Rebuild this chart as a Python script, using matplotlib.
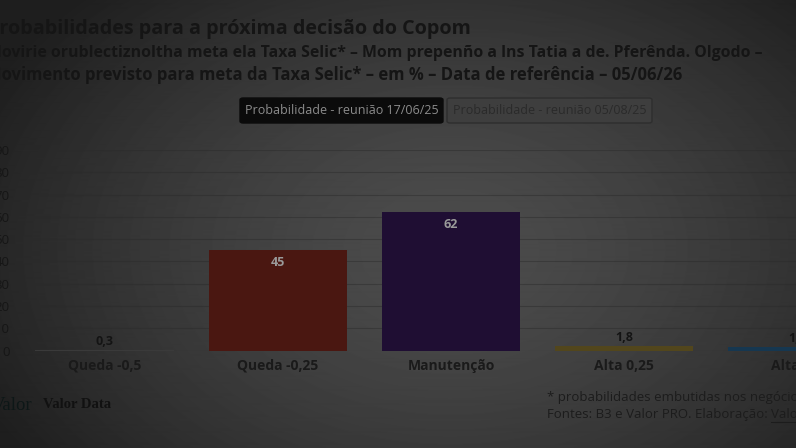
import matplotlib.pyplot as plt
import numpy as np
from matplotlib.patches import FancyBboxPatch

W, H = 796, 448

categories = ["Queda -0,5", "Queda -0,25", "Manutenção", "Alta 0,25", "Alta 0,5"]
values = [0.3, 45, 62, 1.8, 1.5]
value_labels = ["0,3", "45", "62", "1,8", "1,5"]
bar_colors = ["#3a3a3a", "#4a1711", "#1f0e33", "#52461c", "#163750"]
yticks = np.arange(0, 100, 10)

title = "Probabilidades para a próxima decisão do Copom"
subtitle_1 = "Movirie orublectiznoltha meta ela Taxa Selic* – Mom prepenño a lns Tatia a de. Pferênda. Olgodo –"
subtitle_2 = "Movimento previsto para meta da Taxa Selic* – em % – Data de referência – 05/06/26"
buttons = ["Probabilidade - reunião 17/06/25", "Probabilidade - reunião 05/08/25"]
note = "* probabilidades embutidas nos negócios com DI"
source = "Fontes: B3 e Valor PRO. Elaboração: "


def px(x, y):
    # pixel coords (from top-left) to figure fraction
    return x / W, 1 - y / H


plt.rcParams['font.family'] = ['Open Sans', 'DejaVu Sans']

fig = plt.figure(figsize=(W / 100, H / 100), dpi=100)

# dimmed background with a soft vignette
bg = fig.add_axes([0, 0, 1, 1], zorder=-10)
yy, xx = np.mgrid[0:H, 0:W]
r = np.sqrt(((xx - 450) / 520) ** 2 + ((yy - 250) / 360) ** 2)
shade = 30 + 46 * np.clip(1 - r ** 1.5, 0, 1)
bg.imshow(shade, cmap='gray', vmin=0, vmax=255, aspect='auto',
          extent=[0, 1, 0, 1], interpolation='bilinear')
bg.axis('off')

# main bar chart
left, bottom = px(18, 350.5)
ax_w = 866 / W
ax_h = 200.5 / H
ax = fig.add_axes([left, bottom, ax_w, ax_h])
ax.patch.set_alpha(0)
x = np.arange(len(categories))
ax.bar(x, values, width=0.8, color=bar_colors, zorder=3)
ax.set_xlim(-0.5, 4.5)
ax.set_ylim(0, 90)
ax.set_yticks(yticks)
ax.set_yticklabels([str(t) for t in yticks], fontsize=9.5, color='#161616')
ax.set_xticks(x)
ax.set_xticklabels(categories, fontsize=10, fontweight='bold', color='#1a1a1a')
ax.tick_params(length=0, pad=6)
ax.tick_params(axis='x', pad=6)
ax.grid(axis='y', color='#2a2a2a', lw=0.8, alpha=0.45, zorder=0)
for s in ax.spines.values():
    s.set_visible(False)

for xi, v, lab in zip(x, values, value_labels):
    if v > 10:
        ax.text(xi, v - 2.5, lab, ha='center', va='top', fontsize=9,
                fontweight='bold', color='#9a9a9a', zorder=4)
    else:
        ax.text(xi, v + 1.0, lab, ha='center', va='bottom', fontsize=9,
                fontweight='bold', color='#141414', zorder=4)

# titles
fig.text(*px(-13, 29), title, fontsize=14.2, fontweight='bold', color='#151515', va='center')
fig.text(*px(-13, 53), subtitle_1, fontsize=11.4, fontweight='bold', color='#151515', va='center')
fig.text(*px(-14, 75), subtitle_2, fontsize=12, fontweight='bold', color='#151515', va='center')

# toggle buttons
btn_specs = [(240, 443, '#0b0b0b', '#0b0b0b', '#8c8c8c'),
             (447, 652, '#3e3e3e', '#2e2e2e', '#2a2a2a')]
for (x0, x1, fc, ec, tc), label in zip(btn_specs, buttons):
    bx, by = px(x0, 123)
    bw = (x1 - x0) / W
    bh = 25 / H
    fig.patches.append(FancyBboxPatch((bx, by), bw, bh, boxstyle="round,pad=0,rounding_size=0.004",
                                      transform=fig.transFigure, fc=fc, ec=ec, lw=1))
    fig.text(bx + bw / 2, by + bh / 2, label, ha='center', va='center',
             fontsize=9, color=tc)

# footer
fig.text(*px(-8, 405), "Valor", family='Liberation Serif', fontsize=13.5,
         color='#0d1717', va='center')
fig.text(*px(43, 405), "Valor Data", family='Liberation Serif', fontsize=10.5,
         fontweight='bold', color='#111111', va='center')
fig.text(*px(547, 398), note, fontsize=9.5, color='#1c1c1c', va='center')
src = fig.text(*px(547, 414), source, fontsize=9.5, color='#1c1c1c', va='center')

fig.canvas.draw()
bb = src.get_window_extent()
link_x = bb.x1 / W
link = fig.text(link_x, 1 - 414 / H, "Valor Data", fontsize=9.5, color='#1c1c1c', va='center')
fig.canvas.draw()
lb = link.get_window_extent()
fig.add_artist(plt.Line2D([lb.x0 / W, lb.x1 / W], [(lb.y0 - 1) / H, (lb.y0 - 1) / H],
                          transform=fig.transFigure, color='#1c1c1c', lw=0.8))

fig.savefig('out.png', dpi=100)
